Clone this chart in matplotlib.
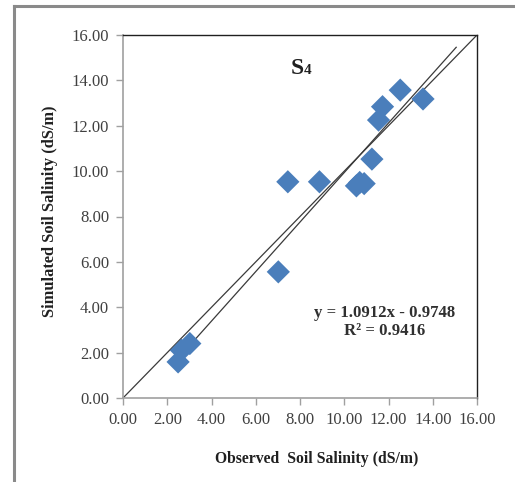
import matplotlib
matplotlib.use("Agg")
import matplotlib.pyplot as plt
from matplotlib.lines import Line2D
import numpy as np

# Data
observed = [2.49, 2.64, 3.02, 7.02, 7.45, 8.88, 10.55, 10.7, 10.9, 11.25, 11.55, 11.73, 12.53, 13.56]
simulated = [1.59, 2.1, 2.4, 5.56, 9.53, 9.53, 9.35, 9.5, 9.45, 10.53, 12.25, 12.84, 13.57, 13.18]
slope = 1.0912
intercept = -0.9748
r2 = 0.9416
trend_range = [2.49, 15.06]
ticks = [0, 2, 4, 6, 8, 10, 12, 14, 16]
tick_labels = ["0.00", "2.00", "4.00", "6.00", "8.00", "10.00", "12.00", "14.00", "16.00"]

W, H = 515, 482
fig = plt.figure(figsize=(W / 100, H / 100), dpi=100)
fig.patch.set_facecolor("white")

serif = ["Liberation Serif", "DejaVu Serif"]

# outer frame (left and top gray lines)
fig.add_artist(Line2D([13.5 / W, 13.5 / W], [0, 1 - 6 / H], transform=fig.transFigure,
                      color="#8a8a8a", lw=2.2))
fig.add_artist(Line2D([13.5 / W, 1], [1 - 6 / H, 1 - 6 / H], transform=fig.transFigure,
                      color="#8a8a8a", lw=2.2))

ax = fig.add_axes([123 / W, 1 - 398 / H, (477 - 123) / W, (398 - 35) / H])
ax.set_xlim(0, 16)
ax.set_ylim(0, 16)

# 1:1 line
ax.plot([0, 16], [0, 16], color="#3a3a3a", lw=0.9, zorder=2)
# trend line
tx = np.array(trend_range)
ax.plot(tx, slope * tx + intercept, color="#3a3a3a", lw=0.9, zorder=2)

ax.scatter(observed, simulated, marker="D", s=140, color="#4A7EBB", edgecolors="none", zorder=3)

ax.set_xticks(ticks)
ax.set_yticks(ticks)
ax.set_xticklabels(tick_labels, fontfamily=serif, fontsize=12, color="#404040")
ax.set_yticklabels(tick_labels, fontfamily=serif, fontsize=12, color="#404040")
ax.tick_params(direction="out", length=5, width=1, color="#a0a0a0")
ax.tick_params(axis="y", pad=5)
ax.tick_params(axis="x", pad=5)

for side in ["left", "bottom"]:
    ax.spines[side].set_color("#a0a0a0")
    ax.spines[side].set_linewidth(1.2)
for side in ["top", "right"]:
    ax.spines[side].set_color("#202020")
    ax.spines[side].set_linewidth(1.0)

# axis titles
fig.text(317 / W, 1 - 459 / H, "Observed  Soil Salinity (dS/m)", fontfamily=serif,
         fontweight="bold", fontsize=11.3, color="#202020", ha="center", va="center")
fig.text(50 / W, 1 - 211 / H, "Simulated Soil Salinity (dS/m)", fontfamily=serif,
         fontweight="bold", fontsize=11.8, color="#202020", ha="center", va="center",
         rotation=90)

# S4 label
fig.text(304 / W, 1 - 68 / H, "S", fontfamily=serif, fontweight="bold", fontsize=17,
         color="#202020", ha="right", va="center")
fig.text(304 / W, 1 - 71 / H, "4", fontfamily=serif, fontweight="bold", fontsize=11,
         color="#202020", ha="left", va="center")

# equation
fig.text(385 / W, 1 - 313 / H, f"y = {slope:.4f}x - {abs(intercept):.4f}", fontfamily=serif,
         fontweight="bold", fontsize=12.1, color="#303030", ha="center", va="center")
fig.text(385 / W, 1 - 331 / H, f"R² = {r2:.4f}", fontfamily=serif,
         fontweight="bold", fontsize=12.1, color="#303030", ha="center", va="center")

fig.savefig("out.png", dpi=100)
